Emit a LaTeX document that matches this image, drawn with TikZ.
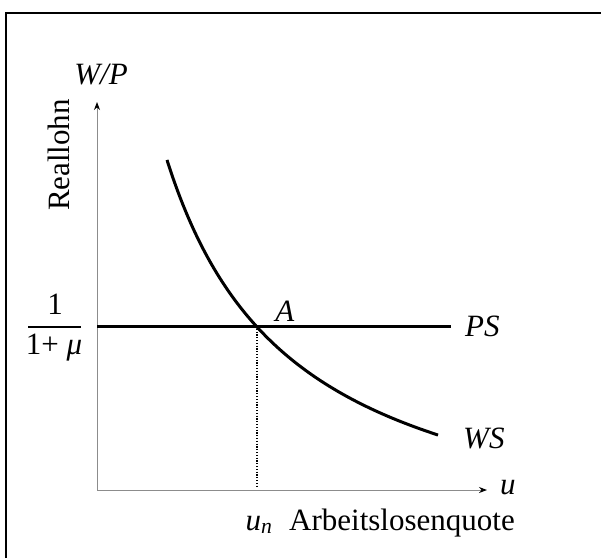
\documentclass[tikz,border=0pt]{standalone}
\usepackage{fontspec}
\setmainfont{Liberation Serif}
\usetikzlibrary{arrows.meta, positioning}

\begin{document}
\begin{tikzpicture}[
    x=1pt, y=-1pt,
    every node/.style={font=\fontsize{31}{35}\selectfont, inner sep=0pt},
    axis/.style={draw=black!45, line width=1pt, -{Stealth[length=8pt, width=6pt, color=black]}},
    curve/.style={line width=3pt},
    guide/.style={line width=2pt, dash pattern=on 1.2pt off 1.6pt},
    frame/.style={line width=2.4pt}
]
\useasboundingbox (0,0) rectangle (601,558);

% frame (top and left edge)
\draw[frame] (6,558) -- (6,13) -- (601,13);

% axes
\coordinate (O) at (97,490);
\coordinate (ytop) at (97,102);
\coordinate (xend) at (487,490);
\draw[axis] (O) -- (ytop);
\draw[axis] (O) -- (xend);
\node (wp) at (101,75) {\textit{W/P}};
\node[rotate=90] (reallohn) at (59,155) {Reallohn};
\node[anchor=west] (ulab) at (500,488) {\textit{u}};

% PS line
\coordinate (psl) at (97,326);
\coordinate (psr) at (451,326);
\draw[curve] (psl) -- (psr);
\node[anchor=west] (ps) at (465,326) {\textit{PS}};

% price level label
\node (num) at (55,304) {1};
\draw[line width=1.8pt] (28,327) -- (81,327);
\node (den) at (54,348) {1+ \textit{μ}};

% WS curve
\draw[curve] plot[domain=167:438, samples=80, smooth] (\x, {565.4 - 520.99/((\x - 38.5)/100)});
\node[anchor=west] (ws) at (463,438) {\textit{WS}};

% equilibrium
\coordinate (A) at (257,326);
\node (alab) at (285,311) {\textit{A}};
\coordinate (un) at (257,487);
\draw[guide] (A) -- (un);
\node (unlab) at (259,525) {\textit{u}\textsubscript{\textit{n}}};
\node[anchor=west] (quote) at (289,523) {Arbeitslosenquote};
\end{tikzpicture}
\end{document}
